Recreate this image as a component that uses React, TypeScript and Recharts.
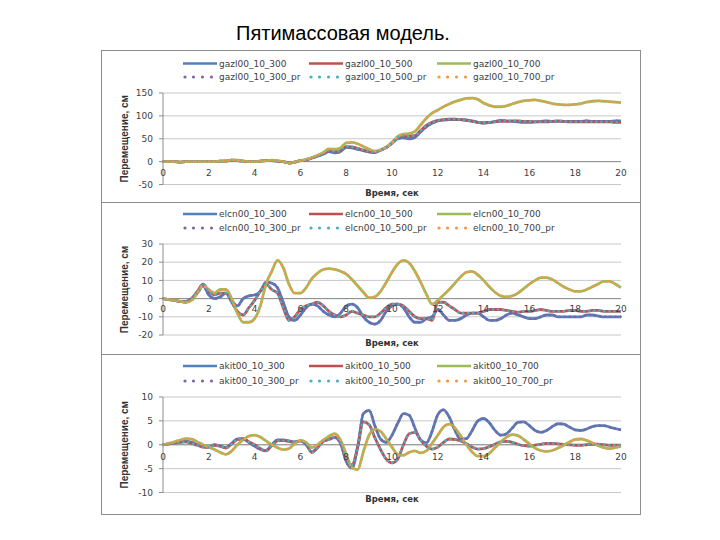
import React from 'react';
import { LineChart, Line, XAxis, YAxis, CartesianGrid, Legend, ReferenceLine, ReferenceDot } from 'recharts';

const timeSec = [0,0.25,0.5,0.75,1,1.25,1.5,1.75,2,2.25,2.5,2.75,3,3.25,3.5,3.75,4,4.25,4.5,4.75,5,5.25,5.5,5.75,6,6.25,6.5,6.75,7,7.25,7.5,7.75,8,8.25,8.5,8.75,9,9.25,9.5,9.75,10,10.25,10.5,10.75,11,11.25,11.5,11.75,12,12.25,12.5,12.75,13,13.25,13.5,13.75,14,14.25,14.5,14.75,15,15.25,15.5,15.75,16,16.25,16.5,16.75,17,17.25,17.5,17.75,18,18.25,18.5,18.75,19,19.25,19.5,19.75,20];
const xTickLabels = [0,2,4,6,8,10,12,14,16,18,20];

const titleText = 'Пятимассовая модель.';
const xTitle = 'Время, сек';
const yTitle = 'Перемещение, см';

// Panel 1: gazl
const gazlNames = ['gazl00_10_300','gazl00_10_500','gazl00_10_700','gazl00_10_300_pr','gazl00_10_500_pr','gazl00_10_700_pr'];
const gazlTicks = [-50,0,50,100,150];
const gazl300 = [0,0,0,-1,0,0,0,0,0,0,1,1,3,2,1,0,0,1,2,2,1,0,-3,-1,2,4,8,12,16,22,19,22,31,30,27,24,21,20,25,31,40,50,52,50,53,65,76,84,89,91,92,92,92,91,89,86,84,85,88,90,89,88,87,86,86,87,88,89,88,88,88,88,88,88,89,88,88,88,88,89,89];
const gazl500 = [0,0,0,-1,0,0,0,0,0,0,1,1,3,2,1,0,0,1,2,2,1,0,-3,-1,2,4,8,13,18,25,22,25,33,32,29,25,22,21,25,31,42,53,57,56,57,68,79,86,90,92,93,93,92,90,88,86,85,86,87,88,88,89,89,88,88,87,87,87,88,89,88,87,87,87,87,87,87,87,87,86,86];
const gazl700 = [0,0,0,-1,0,0,0,0,0,0,1,1,4,3,1,0,0,1,2,3,2,0,-3,-1,2,5,9,14,20,28,27,30,41,42,39,33,27,23,26,32,41,55,60,61,66,80,95,106,113,120,126,131,135,138,139,136,128,123,120,120,122,126,130,133,134,135,133,130,127,125,124,124,125,127,130,132,133,132,131,130,129];

// Panel 2: elcn
const elcnNames = ['elcn00_10_300','elcn00_10_500','elcn00_10_700','elcn00_10_300_pr','elcn00_10_500_pr','elcn00_10_700_pr'];
const elcnTicks = [-20,-10,0,10,20,30];
const elcn300 = [0,-0.5,-1,-1.5,-1.5,0,3,7,2,0,1,3,-1,-4,0,1.5,2,4,9,8.5,6,-2,-10,-12,-9,-5,-3,-4,-7,-9,-10,-8,-4,-3,-5,-10,-13,-14,-12,-7,-4,-3,-5,-10,-13,-13,-11,-10,-6,-9,-12,-12,-11,-9,-8,-8,-10,-12,-12,-11,-9,-8,-9,-10,-11,-11,-10,-9,-9,-10,-10,-10,-10,-10,-9,-9,-9.5,-10,-10,-10,-10];
const elcn500 = [0,-0.5,-1,-1.5,-2,0,4,8,4,2,3,3,-2,-7,-9,-5,-1,4,8,5,3,-5,-12,-10,-6,-4,-3,-2,-4,-7,-9,-10,-9,-7,-8,-9,-10,-10,-8,-5,-3,-3,-4,-7,-10,-11,-11,-12,-2,-2,-4,-6,-8,-8,-8,-8,-7,-6,-6,-6,-6.5,-7,-7.5,-7,-7,-6.5,-6,-6.5,-7,-7,-7,-6.5,-6.5,-7,-7,-6.5,-6.5,-7,-7,-7,-7];
const elcn700 = [0,-0.5,-1,-1.5,-2,-1,3,7,5,3,5,5,0,-8,-13,-13,-11,-4,8,15,21,17,8,3,3,6,11,14,16,16.5,16,15,13.5,10.5,7,3.5,0.5,1,4,9,14.5,19,21,19.5,15,9,2.5,-3,-1,2,5,8.5,12,14.5,15,13,10,6.5,3.5,1.5,1,1.5,3,5.5,8,10,11.5,11.5,10.5,8.5,6.5,5,4,4,5,6.5,8,9.5,9.5,8,6];

// Panel 3: akit
const akitNames = ['akit00_10_300','akit00_10_500','akit00_10_700','akit00_10_300_pr','akit00_10_500_pr','akit00_10_700_pr'];
const akitTicks = [-10,-5,0,5,10];
const akit300 = [0,0.2,0.4,0.6,0.7,0.5,0,-0.4,-0.5,0,-0.3,-0.6,0.3,1.2,1.2,0.5,-0.3,-1,-1.2,0,1,1,0.8,0.6,0.8,0,-1.5,-0.5,0.8,1.2,1.5,0.3,-3.5,-4.9,-0.5,6.5,7.2,4,1.2,0.5,2,4.5,6.5,6.2,3.5,1,0.4,2.8,6.3,7.3,5.8,3,1.2,1.3,3,5,5.5,4.6,3,2,2.3,3.5,4.7,4.8,4,3,2.6,3,3.8,4.4,4.3,3.7,3.1,3,3.3,3.8,4,4,3.7,3.4,3.1];
const akit500 = [0,0.2,0.4,0.5,0.6,0.3,-0.1,-0.5,-0.6,-0.1,-0.3,-0.7,0.2,1.1,1.3,0.6,0,-0.8,-1.3,-0.2,0.8,0.9,0.7,0.5,0.8,0.2,-1.6,-0.6,0.7,1.1,1.6,0.5,-2.8,-4.2,-0.5,4.8,4.2,1.5,-1,-3,-3.8,-3,0,2.3,2.6,1,-0.3,-0.9,-0.5,0.5,1.2,1.1,0.8,0.2,-0.5,-0.9,-0.8,-0.4,0.1,0.6,0.7,0.5,0.1,-0.2,-0.3,-0.1,0.1,0.3,0.3,0.2,0.1,0,-0.1,-0.1,0,0.1,0.1,0,-0.1,-0.1,-0.1];
const akit700 = [0,0.3,0.6,1,1.3,1.2,0.6,0,-0.5,-1,-1.6,-2,-1.3,0,1,1.8,2,1.6,0.8,0,-0.6,-1,-0.8,0.2,0.9,0.5,-0.6,0,1,1.8,2.3,1,-2,-4.8,-5.2,-1.5,2,3.2,2.8,1.2,-0.5,-2,-2.2,-1.6,-1.3,-1.7,-1.3,0.3,2,3.7,4.3,3.5,1.8,0,-1.5,-2.4,-2.4,-1.8,-0.6,0.6,1.6,2.1,1.9,1.1,0.2,-0.7,-1.2,-1.4,-1.2,-0.7,-0.1,0.6,1.1,1.2,0.9,0.4,-0.2,-0.6,-0.8,-0.6,-0.3];

const lineColors = ['#4F81BD', '#C0504D', '#9BBB59'];
const dotColors = ['#8064A2', '#4BACC6', '#F79646'];
const legendTextX = [118, 244, 372];
const FONT = "'DejaVu Sans', Verdana, sans-serif";
const NARROW = "'Liberation Sans Narrow', 'Arial Narrow', 'Liberation Sans', sans-serif";
const TEXT_COLOR = '#404040';

type PanelProps = {
  top: number; height: number; names: string[];
  v300: number[]; v500: number[]; v700: number[];
  ticks: number[]; legendH: number; legendRows: number[];
  xAxisH: number; xTitleDy: number; tickOffset: number;
};

function Panel(p: PanelProps) {
  const rows = timeSec.map((t, i) => ({
    t,
    s300: p.v300[i], s500: p.v500[i], s700: p.v700[i],
    p300: p.v300[i], p500: p.v500[i], p700: p.v700[i],
  }));
  const domain = [p.ticks[0], p.ticks[p.ticks.length - 1]];

  const legendContent = () => (
    <div style={{ position: 'relative', width: 539, height: p.legendH }}>
      <svg width={539} height={p.legendH} style={{ position: 'absolute', left: 0, top: 0 }}>
        {p.names.map((n, i) => {
          const col = i % 3;
          const row = Math.floor(i / 3);
          const tx = legendTextX[col];
          const y = p.legendRows[row];
          return (
            <g key={n}>
              {row === 0 ? (
                <line x1={tx - 36} x2={tx - 2} y1={y} y2={y} stroke={lineColors[col]} strokeWidth={2.5} />
              ) : (
                [34, 25.5, 16.5, 7.5].map((d) => (
                  <circle key={d} cx={tx - d} cy={y} r={1.6} fill={dotColors[col]} />
                ))
              )}
              <text x={tx} y={y} dominantBaseline="central" fontFamily={FONT} fontSize={9} fill={TEXT_COLOR}>{n}</text>
            </g>
          );
        })}
      </svg>
    </div>
  );

  const yLabel = (props: any) => {
    const vb = props.viewBox || {};
    const cx = (vb.x || 0) + 23;
    const cy = (vb.y || 0) + (vb.height || 0) / 2;
    return (
      <text x={cx} y={cy} transform={`rotate(-90 ${cx} ${cy})`} textAnchor="middle" dominantBaseline="central"
        fontFamily={NARROW} fontSize={10} fontWeight={700} fill="#333">{yTitle}</text>
    );
  };

  const xLabel = (props: any) => {
    const vb = props.viewBox || {};
    const cx = (vb.x || 0) + (vb.width || 0) / 2;
    const cy = (vb.y || 0) + (vb.height || 0) / 2 + p.xTitleDy;
    return (
      <text x={cx} y={cy} textAnchor="middle" dominantBaseline="central"
        fontFamily={FONT} fontSize={8.5} fontWeight={700} fill="#333">{xTitle}</text>
    );
  };

  return (
    <div style={{ position: 'absolute', left: 101, top: p.top, width: 539, height: p.height }}>
      <LineChart width={539} height={p.height} data={rows} margin={{ top: 0, right: 19, bottom: 0, left: 0 }}>
        <CartesianGrid vertical={false} stroke="#c8c8c8" />
        <XAxis dataKey="t" type="number" domain={[0, 20]} ticks={xTickLabels} tick={false} axisLine={false}
          tickLine={false} height={p.xAxisH} label={xLabel} />
        <YAxis type="number" domain={domain} ticks={p.ticks} interval={0} width={62}
          tick={{ fontSize: 9, fill: TEXT_COLOR, fontFamily: FONT }} tickSize={4} tickMargin={6}
          axisLine={{ stroke: '#8c8c8c' }} tickLine={{ stroke: '#8c8c8c' }} label={yLabel} />
        <Legend verticalAlign="top" align="left" content={legendContent}
          wrapperStyle={{ left: 0, top: 0, width: 539, height: p.legendH }} />
        <ReferenceLine y={0} stroke="#8c8c8c" />
        {xTickLabels.map((v) => (
          <ReferenceDot key={v} x={v} y={0} r={0} fill="none" stroke="none"
            label={{ value: String(v), position: 'bottom', offset: p.tickOffset, fontSize: 9, fill: TEXT_COLOR, fontFamily: FONT }} />
        ))}
        <Line type="monotone" dataKey="s300" stroke={lineColors[0]} strokeWidth={2.8} dot={false} activeDot={false} isAnimationActive={false} />
        <Line type="monotone" dataKey="s500" stroke={lineColors[1]} strokeWidth={2.8} dot={false} activeDot={false} isAnimationActive={false} />
        <Line type="monotone" dataKey="s700" stroke={lineColors[2]} strokeWidth={2.8} dot={false} activeDot={false} isAnimationActive={false} />
        <Line type="monotone" dataKey="p300" stroke={dotColors[0]} strokeWidth={2.6} strokeDasharray="0.1 5" strokeLinecap="round" dot={false} activeDot={false} isAnimationActive={false} />
        <Line type="monotone" dataKey="p500" stroke={dotColors[1]} strokeWidth={2.6} strokeDasharray="0.1 5" strokeLinecap="round" dot={false} activeDot={false} isAnimationActive={false} />
        <Line type="monotone" dataKey="p700" stroke={dotColors[2]} strokeWidth={2.6} strokeDasharray="0.1 5" strokeLinecap="round" dot={false} activeDot={false} isAnimationActive={false} />
      </LineChart>
    </div>
  );
}

export default function App() {
  return (
    <div style={{ position: 'absolute', left: 0, top: 0, width: 720, height: 540, background: '#fff', overflow: 'hidden' }}>
      <div style={{ position: 'absolute', left: 0, top: 22, width: 686, textAlign: 'center', fontFamily: "'Liberation Sans', Arial, sans-serif", fontSize: 20, lineHeight: '22px', color: '#000' }}>
        {titleText}
      </div>
      <div style={{ position: 'absolute', left: 101, top: 50, width: 540, height: 465, border: '1px solid #8c8c8c', boxSizing: 'border-box' }} />
      <div style={{ position: 'absolute', left: 101, top: 202, width: 540, height: 1, background: '#8c8c8c' }} />
      <div style={{ position: 'absolute', left: 101, top: 354, width: 540, height: 1, background: '#8c8c8c' }} />
      <Panel top={51} height={151} names={gazlNames} v300={gazl300} v500={gazl500} v700={gazl700}
        ticks={gazlTicks} legendH={42} legendRows={[12.5, 26]} xAxisH={17.5} xTitleDy={0} tickOffset={7.5} />
      <Panel top={203} height={151} names={elcnNames} v300={elcn300} v500={elcn500} v700={elcn700}
        ticks={elcnTicks} legendH={41} legendRows={[11, 25]} xAxisH={19} xTitleDy={-2} tickOffset={7.5} />
      <Panel top={355} height={159} names={akitNames} v300={akit300} v500={akit500} v700={akit700}
        ticks={akitTicks} legendH={42} legendRows={[11, 26]} xAxisH={21.5} xTitleDy={-4} tickOffset={9} />
    </div>
  );
}
